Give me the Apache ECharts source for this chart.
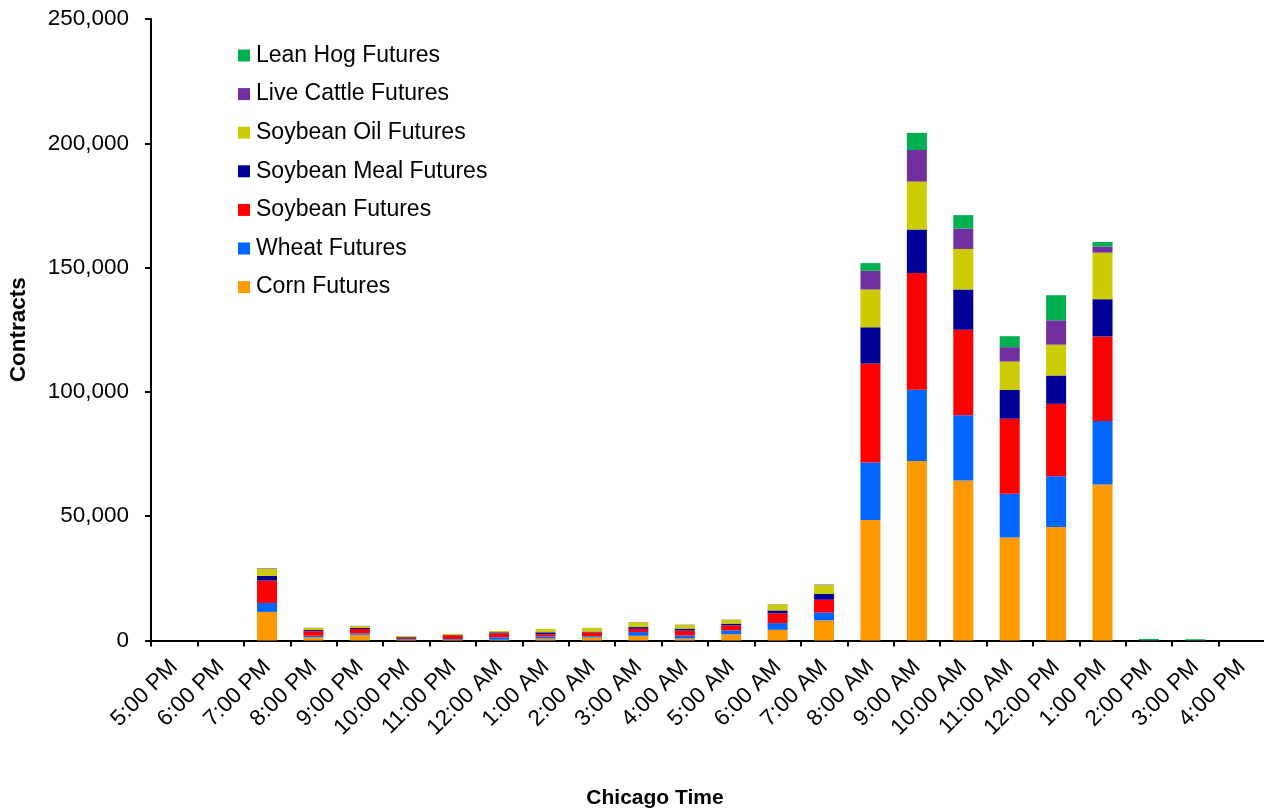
<!DOCTYPE html>
<html>
<head>
<meta charset="utf-8">
<script src="https://cdn.jsdelivr.net/npm/echarts@6/dist/echarts.min.js"></script>
<style>
  html, body { margin: 0; padding: 0; background: #ffffff; }
  #chart { width: 1264px; height: 810px; }
</style>
</head>
<body>
<div id="chart"></div>
<script>
// Hourly contract volume by product, Chicago time
const hours = ['5:00 PM','6:00 PM','7:00 PM','8:00 PM','9:00 PM','10:00 PM','11:00 PM','12:00 AM',
  '1:00 AM','2:00 AM','3:00 AM','4:00 AM','5:00 AM','6:00 AM','7:00 AM','8:00 AM','9:00 AM',
  '10:00 AM','11:00 AM','12:00 PM','1:00 PM','2:00 PM','3:00 PM','4:00 PM'];

const corn        = [0, 0, 11500, 1300, 2300, 300, 300, 300, 800, 1200, 1900, 800, 2500, 4300, 8100, 48500, 72200, 64400, 41400, 45700, 62800, 0, 0, 0];
const wheat       = [0, 0, 3600, 600, 600, 300, 300, 1000, 800, 500, 1500, 1200, 1600, 2700, 3100, 23100, 28700, 26200, 17600, 20400, 25500, 0, 0, 0];
const soybean     = [0, 0, 9000, 1800, 1700, 600, 1500, 1600, 900, 1600, 1300, 2000, 2000, 3900, 5200, 39800, 46900, 34400, 30200, 29100, 34000, 0, 0, 0];
const soybeanMeal = [0, 0, 1900, 500, 500, 200, 150, 400, 800, 300, 700, 800, 700, 1200, 2400, 14600, 17500, 16200, 11600, 11400, 15000, 0, 0, 0];
const soybeanOil  = [0, 0, 2900, 800, 700, 400, 400, 500, 1300, 1500, 1900, 1500, 1500, 2400, 3500, 15200, 19300, 16300, 11400, 12400, 18700, 0, 0, 0];
const liveCattle  = [0, 0, 200, 100, 100, 0, 0, 0, 0, 0, 100, 100, 100, 100, 200, 7500, 12700, 8200, 5800, 9800, 2500, 100, 100, 0];
const leanHog     = [0, 0, 0, 0, 0, 0, 0, 0, 0, 0, 0, 0, 0, 0, 0, 3100, 6900, 5400, 4400, 10100, 1800, 500, 400, 0];

const yTicks = [0, 50000, 100000, 150000, 200000, 250000];

const products = [
  { name: 'Corn Futures',         data: corn,        color: '#FF9900' },
  { name: 'Wheat Futures',        data: wheat,       color: '#0066FF' },
  { name: 'Soybean Futures',      data: soybean,     color: '#FF0000' },
  { name: 'Soybean Meal Futures', data: soybeanMeal, color: '#000099' },
  { name: 'Soybean Oil Futures',  data: soybeanOil,  color: '#CCCC00' },
  { name: 'Live Cattle Futures',  data: liveCattle,  color: '#7030A0' },
  { name: 'Lean Hog Futures',     data: leanHog,     color: '#00B050' }
];

const FONT = "'Liberation Sans', Arial, sans-serif";

const chart = echarts.init(document.getElementById('chart'), null, { renderer: 'canvas' });

chart.setOption({
  animation: false,
  backgroundColor: '#ffffff',
  textStyle: { fontFamily: FONT },
  grid: { left: 151, top: 19, width: 1114, height: 621.5, containLabel: false, outerBoundsMode: 'none' },
  legend: {
    orient: 'vertical',
    left: 233,
    top: 39,
    icon: 'rect',
    itemWidth: 12,
    itemHeight: 12,
    itemGap: 15.6,
    data: products.map(p => p.name).reverse(),
    textStyle: { fontFamily: FONT, fontSize: 23, color: '#000000', padding: [0, 0, 0, 1] }
  },
  xAxis: {
    type: 'category',
    data: hours,
    boundaryGap: true,
    name: 'Chicago Time',
    nameLocation: 'middle',
    nameGap: 147,
    nameTextStyle: { fontFamily: FONT, fontSize: 21, fontWeight: 'bold', color: '#000000', padding: [0, 106, 0, 0] },
    axisLine: { lineStyle: { color: '#000000', width: 2 } },
    axisTick: { show: true, length: 6, lineStyle: { color: '#000000', width: 2 } },
    axisLabel: { interval: 0, rotate: 45, margin: 23, fontFamily: FONT, fontSize: 22.5, color: '#000000' },
    splitLine: { show: false }
  },
  yAxis: {
    type: 'value',
    min: yTicks[0],
    max: yTicks[yTicks.length - 1],
    interval: yTicks[1] - yTicks[0],
    name: 'Contracts',
    nameLocation: 'middle',
    nameRotate: 90,
    nameGap: 121,
    nameTextStyle: { fontFamily: FONT, fontSize: 22.5, fontWeight: 'bold', color: '#000000' },
    axisLine: { show: true, lineStyle: { color: '#000000', width: 2 } },
    axisTick: { show: true, length: 6, lineStyle: { color: '#000000', width: 2 } },
    axisLabel: {
      margin: 22,
      fontFamily: FONT,
      fontSize: 22.5,
      color: '#000000',
      formatter: v => v.toLocaleString('en-US')
    },
    splitLine: { show: false }
  },
  series: products.map(p => ({
    name: p.name,
    type: 'bar',
    stack: 'volume',
    barWidth: 20,
    data: p.data,
    itemStyle: { color: p.color },
    emphasis: { disabled: true }
  }))
});
</script>
</body>
</html>
